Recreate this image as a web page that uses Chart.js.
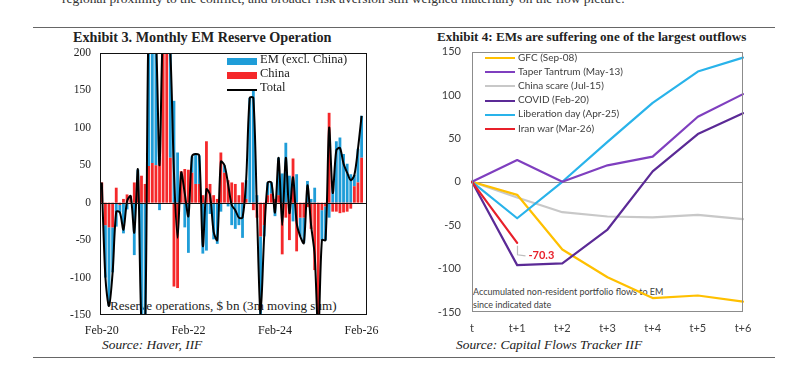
<!DOCTYPE html>
<html>
<head>
<meta charset="utf-8">
<script src="https://cdn.jsdelivr.net/npm/chart.js@4.4.1/dist/chart.umd.min.js"></script>
<style>
html,body{margin:0;padding:0;background:#fff;}
#page{position:relative;width:800px;height:366px;overflow:hidden;background:#fff;}
.tx{position:absolute;white-space:nowrap;line-height:1;}
.serif{font-family:"Liberation Serif","DejaVu Serif",serif;color:#222;}
.sans{font-family:Lato,"Liberation Sans",sans-serif;color:#404040;}
.rule{position:absolute;height:1px;background:#666;}
canvas{position:absolute;}
.lg{position:absolute;}
</style>
</head>
<body>
<div id="page">
 <div class="tx serif" style="left:62px;top:-8px;font-size:13.5px;color:#333">regional proximity to the conflict, and broader risk aversion still weighed materially on the flow picture.</div>
 <div class="rule" style="left:33px;top:27px;width:742px"></div>
 <div class="rule" style="left:33px;top:357px;width:742px"></div>
 <div class="tx serif" style="left:73px;top:30px;font-size:14.2px;font-weight:bold">Exhibit 3. Monthly EM Reserve Operation</div>
 <div class="tx serif" style="left:437px;top:30px;font-size:13.1px;font-weight:bold">Exhibit 4: EMs are suffering one of the largest outflows</div>
 <div class="tx serif" style="left:110px;top:299px;font-size:13.1px">Reserve operations, $ bn (3m moving sum)</div>
 <div class="tx serif" style="left:102px;top:338px;font-size:13.4px;font-style:italic">Source: Haver, IIF</div>
 <div class="tx serif" style="left:456px;top:338px;font-size:13.4px;font-style:italic">Source: Capital Flows Tracker IIF</div>
 <div class="tx sans" style="left:473px;top:287px;font-size:9px">Accumulated non-resident portfolio flows to EM</div>
 <div class="tx sans" style="left:473px;top:300px;font-size:9px">since indicated date</div>
 <canvas id="c1" width="350" height="292" style="left:40px;top:45px"></canvas>
 <canvas id="c2" width="390" height="300" style="left:410px;top:44px"></canvas>
 <div id="leg1"></div>
 <div id="leg2"></div>
</div>
<script>
// ---------- Exhibit 3 data ----------
const months = ['Feb-20','Mar-20','Apr-20','May-20','Jun-20','Jul-20','Aug-20','Sep-20','Oct-20','Nov-20','Dec-20',
'Jan-21','Feb-21','Mar-21','Apr-21','May-21','Jun-21','Jul-21','Aug-21','Sep-21','Oct-21','Nov-21','Dec-21',
'Jan-22','Feb-22','Mar-22','Apr-22','May-22','Jun-22','Jul-22','Aug-22','Sep-22','Oct-22','Nov-22','Dec-22',
'Jan-23','Feb-23','Mar-23','Apr-23','May-23','Jun-23','Jul-23','Aug-23','Sep-23','Oct-23','Nov-23','Dec-23',
'Jan-24','Feb-24','Mar-24','Apr-24','May-24','Jun-24','Jul-24','Aug-24','Sep-24','Oct-24','Nov-24','Dec-24',
'Jan-25','Feb-25','Mar-25','Apr-25','May-25','Jun-25','Jul-25','Aug-25','Sep-25','Oct-25','Nov-25','Dec-25',
'Jan-26','Feb-26','Mar-26'];
const emExChina = [0,-70,-105,-60,-32,-10,-41,-9,0,-70,14,
-200,-195,200,190,170,-10,10,10,140,136,67,-2,
-33,-67,22,40,38,-68,-64,-15,-49,-55,-12,10,
-5,-30,-35,-30,-47,25,140,150,10,-105,-15,17,
15,-18,50,39,80,36,-25,38,-25,-34,29,5,
20,-5,-40,-45,-20,25,82,87,65,52,38,15,
45,56,null];
const china = [27,-30,-33,-33,20,-3,5,11,9,27,30,
36,25,49,53,50,60,230,230,60,-112,-114,42,
45,44,40,25,25,10,82,25,10,5,67,40,
30,27,25,10,27,5,0,-10,-20,-45,-30,10,
12,5,10,-69,-20,-50,59,-65,-20,-20,-6,-35,
-90,-170,-10,-5,120,-12,-12,-14,-13,-12,-8,22,
27,60,null];
const total = [27,-100,-138,-93,-12,-13,-36,2,9,-40,44,
-164,-170,249,243,220,50,240,240,200,40,-47,40,
12,-18,62,65,63,-58,18,10,-39,-50,55,50,
25,-3,-10,-20,-20,30,140,140,-10,-150,-45,27,
27,-13,60,-30,60,-14,34,-27,-45,-54,23,-30,
-70,-175,-50,-50,100,13,70,73,52,40,30,37,
72,116,null];
const leftTicks = [-150,-100,-50,0,50,100,150,200];

// ---------- Exhibit 4 data ----------
const horizons = ['t','t+1','t+2','t+3','t+4','t+5','t+6'];
const gfc        = [0,-15,-78,-110,-134,-131,-138];
const taper      = [0,25,0,19,29,75,101];
const chinaScare = [0,-18,-35,-40,-41,-38,-43];
const covid      = [0,-96,-94,-55,12,55,79];
const liberation = [0,-42,0,46,91,127,143];
const iranWar    = [0,-70.3,null,null,null,null,null];
const rightLabels = ['GFC (Sep-08)','Taper Tantrum (May-13)','China scare (Jul-15)','COVID (Feb-20)','Liberation day (Apr-25)','Iran war (Mar-26)'];

const SERIF = '"Liberation Serif", "DejaVu Serif", serif';
const SANS = 'Lato, "Liberation Sans", sans-serif';

function framePlugin(id, color, zeroBefore){
  function zero(chart){
    const {ctx, chartArea:a, scales:{y}} = chart;
    const z = Math.round(y.getPixelForValue(0)) + 0.5;
    ctx.save(); ctx.strokeStyle = color; ctx.lineWidth = 1;
    ctx.beginPath(); ctx.moveTo(a.left, z); ctx.lineTo(a.right, z); ctx.stroke(); ctx.restore();
  }
  return {
    id,
    beforeDatasetsDraw(chart){ if (zeroBefore) zero(chart); },
    afterDatasetsDraw(chart){
      if (!zeroBefore) zero(chart);
      const {ctx, chartArea:a} = chart;
      ctx.save(); ctx.strokeStyle = color; ctx.lineWidth = 1;
      ctx.strokeRect(Math.round(a.left)+0.5, Math.round(a.top)+0.5, Math.round(a.right-a.left)-1, Math.round(a.bottom-a.top)-1);
      ctx.restore();
    }
  };
}

// place a chart so that its plot area occupies the given page box
function fitArea(chart, el, L, T, R, B){
  let a = chart.chartArea;
  const extraW = chart.width - (a.right - a.left);
  const extraH = chart.height - (a.bottom - a.top);
  chart.resize(Math.round((R - L) + extraW), Math.round((B - T) + extraH));
  a = chart.chartArea;
  el.style.left = (L - a.left) + 'px';
  el.style.top = (T - a.top) + 'px';
}

// ---------- Chart 1 ----------
const el1 = document.getElementById('c1');
const c1 = new Chart(el1, {
  data: {
    labels: months,
    datasets: [
      {type:'bar', label:'EM (excl. China)', data: emExChina, backgroundColor:'#1F9DD8', stack:'bars', order:2, barPercentage:0.78, categoryPercentage:1},
      {type:'bar', label:'China', data: china, backgroundColor:'#F5282A', stack:'bars', order:1, barPercentage:0.78, categoryPercentage:1},
      {type:'line', label:'Total', data: total, borderColor:'#000', borderWidth:2, pointRadius:0, tension:0.3, stack:'line', order:0, borderJoinStyle:'round'}
    ]
  },
  options: {
    responsive:false, maintainAspectRatio:false, animation:false, devicePixelRatio:1,
    layout:{padding:{top:8, right:23, left:0, bottom:0}},
    plugins:{legend:{display:false}, tooltip:{enabled:false}},
    scales:{
      x:{stacked:true, offset:true, grid:{display:false, drawTicks:false}, border:{display:false},
         ticks:{autoSkip:false, maxRotation:0, minRotation:0, padding:9, color:'#222', font:{family:SERIF, size:12},
                callback:function(v,i){ return i % 24 === 0 ? this.getLabelForValue(v) : ''; }},
         afterFit(s){ s.height = 22; }},
      y:{stacked:true, min:-150, max:200, grid:{display:false, drawTicks:false}, border:{display:false},
         afterBuildTicks(s){ s.ticks = leftTicks.map(v => ({value:v})); },
         ticks:{padding:9, color:'#222', font:{family:SERIF, size:11.5}},
         afterFit(s){ s.width = 60; }}
    }
  },
  plugins:[framePlugin('frame1', '#111', false)]
});
fitArea(c1, el1, 100, 53, 367, 315);

// ---------- Chart 2 ----------
const rightColors = ['#FFC000','#7F3FBF','#C8C8C8','#5B2A96','#29B3EA','#E8202A'];
const rightData = [gfc, taper, chinaScare, covid, liberation, iranWar];
const labelPlugin = {
  id:'iranLabel',
  afterDatasetsDraw(chart){
    const {ctx, scales:{x, y}} = chart;
    const px = Math.round(x.getPixelForValue(1)) + 0.5;
    const py = y.getPixelForValue(iranWar[1]);
    ctx.save();
    ctx.strokeStyle = '#BDBDBD'; ctx.lineWidth = 1.2;
    ctx.beginPath(); ctx.moveTo(px, py + 3); ctx.lineTo(px, py + 12); ctx.lineTo(px + 8, py + 13); ctx.stroke();
    ctx.fillStyle = '#E8202A'; ctx.font = 'bold 11px ' + SANS; ctx.textBaseline = 'middle';
    ctx.fillText(iranWar[1].toFixed(1), px + 11, py + 13);
    ctx.restore();
  }
};
const el2 = document.getElementById('c2');
const c2 = new Chart(el2, {
  type:'line',
  data: {
    labels: horizons,
    datasets: rightData.map((d, k) => ({
      label: rightLabels[k], data: d, borderColor: rightColors[k], backgroundColor: rightColors[k],
      borderWidth: 2.2, pointRadius: 0, tension: 0, borderJoinStyle:'round', borderCapStyle:'round',
      order: [5,3,6,2,4,1][k]
    }))
  },
  options: {
    responsive:false, maintainAspectRatio:false, animation:false, devicePixelRatio:1,
    layout:{padding:{top:8, right:57, left:0, bottom:0}},
    plugins:{legend:{display:false}, tooltip:{enabled:false}},
    scales:{
      x:{offset:false, grid:{display:false, drawTicks:false}, border:{display:false},
         ticks:{autoSkip:false, maxRotation:0, padding:10, color:'#404040', font:{family:SANS, size:11}},
         afterFit(s){ s.height = 32; }},
      y:{min:-150, max:150, grid:{display:false, drawTicks:false}, border:{display:false},
         ticks:{stepSize:50, padding:11, color:'#404040', font:{family:SANS, size:11}},
         afterFit(s){ s.width = 62; }}
    }
  },
  plugins:[framePlugin('frame2', '#8C8C8C', true), labelPlugin]
});
fitArea(c2, el2, 472, 52, 743, 312);

// ---------- Legends (HTML) ----------
const leg1 = document.getElementById('leg1');
const leftItems = [
  {label:c1.data.datasets[0].label, color:c1.data.datasets[0].backgroundColor, kind:'box'},
  {label:c1.data.datasets[1].label, color:c1.data.datasets[1].backgroundColor, kind:'box'},
  {label:c1.data.datasets[2].label, color:c1.data.datasets[2].borderColor, kind:'line'}
];
leftItems.forEach((it, k) => {
  const yc = 61 + k * 14;
  const sw = document.createElement('div');
  sw.className = 'lg';
  if (it.kind === 'box') { sw.style.cssText = `left:227px;top:${yc-3}px;width:30px;height:7px;background:${it.color}`; }
  else { sw.style.cssText = `left:227px;top:${yc}px;width:30px;height:2px;background:${it.color}`; }
  leg1.appendChild(sw);
  const t = document.createElement('div');
  t.className = 'tx serif';
  t.style.cssText = `left:260px;top:${yc-8}px;font-size:12.5px`;
  t.textContent = it.label;
  leg1.appendChild(t);
});
const leg2 = document.getElementById('leg2');
rightLabels.forEach((lab, k) => {
  const yc = 58 + k * 14.2;
  const sw = document.createElement('div');
  sw.className = 'lg';
  sw.style.cssText = `left:485px;top:${(yc-1).toFixed(1)}px;width:30px;height:2px;background:${rightColors[k]}`;
  leg2.appendChild(sw);
  const t = document.createElement('div');
  t.className = 'tx sans';
  t.style.cssText = `left:518px;top:${(yc-6.5).toFixed(1)}px;font-size:10px`;
  t.textContent = lab;
  leg2.appendChild(t);
});
</script>
</body>
</html>
